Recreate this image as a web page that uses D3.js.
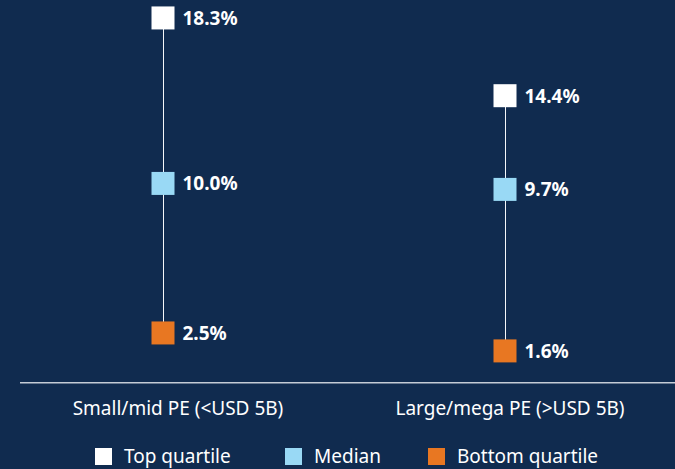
<!DOCTYPE html>
<html><head><meta charset="utf-8">
<script src="https://cdn.jsdelivr.net/npm/d3@7"></script>
<style>
html,body{margin:0;padding:0;background:#102b4f;}
svg{display:block;font-family:"Noto Sans","Open Sans",sans-serif;}
</style></head>
<body>
<svg id="chart" width="675" height="469"></svg>
<script>
const categories = ["Small/mid PE (<USD 5B)", "Large/mega PE (>USD 5B)"];
const topQuartile = [18.3, 14.4];
const median = [10.0, 9.7];
const bottomQuartile = [2.5, 1.6];
const seriesNames = ["Top quartile", "Median", "Bottom quartile"];
const seriesColors = ["#ffffff", "#99d9f5", "#e87722"];

const W = 675, H = 469;
const svg = d3.select("#chart");
svg.append("rect").attr("width", W).attr("height", H).attr("fill", "#102b4f");

const y = d3.scaleLinear().domain([0, 19.2]).range([382.8, 0]);
const xLabel = d3.scaleBand().domain(categories).range([12, 676]);
const xMark = d3.scalePoint().domain(categories).range([163, 505]);

// axis baseline
svg.append("line").attr("x1", 20).attr("x2", W).attr("y1", y(0)).attr("y2", y(0))
  .attr("stroke", "#c4ccd6").attr("stroke-width", 1.5);

// category labels
svg.selectAll("text.cat").data(categories).enter().append("text")
  .attr("class", "cat")
  .attr("x", d => xLabel(d) + xLabel.bandwidth() / 2)
  .attr("y", 415)
  .attr("text-anchor", "middle")
  .attr("fill", "#ffffff")
  .attr("font-size", 19)
  .text(d => d);

// range lines
svg.selectAll("line.rng").data(categories).enter().append("line")
  .attr("x1", d => xMark(d) + 0.5).attr("x2", d => xMark(d) + 0.5)
  .attr("y1", (d, i) => y(topQuartile[i])).attr("y2", (d, i) => y(bottomQuartile[i]))
  .attr("stroke", "#f4f6f9").attr("stroke-width", 1);

const series = [topQuartile, median, bottomQuartile];
const S = 23;
series.forEach((vals, si) => {
  const g = svg.append("g");
  g.selectAll("rect").data(categories).enter().append("rect")
    .attr("x", d => xMark(d) - S / 2)
    .attr("y", (d, i) => y(vals[i]) - S / 2)
    .attr("width", S).attr("height", S)
    .attr("fill", seriesColors[si]);
  g.selectAll("text").data(categories).enter().append("text")
    .attr("x", d => xMark(d) + S / 2 + 8)
    .attr("y", (d, i) => y(vals[i]))
    .attr("dy", "0.36em")
    .attr("fill", "#ffffff")
    .attr("font-size", 19)
    .attr("font-weight", "bold")
    .text((d, i) => vals[i].toFixed(1) + "%");
});

// legend
const legendX = [95, 285, 428];
const lg = svg.selectAll("g.leg").data(seriesNames).enter().append("g")
  .attr("transform", (d, i) => `translate(${legendX[i]},448)`);
lg.append("rect").attr("width", 17).attr("height", 17)
  .attr("fill", (d, i) => seriesColors[i]);
lg.append("text").attr("x", 29).attr("y", 8.5).attr("dy", "0.36em")
  .attr("fill", "#ffffff").attr("font-size", 19).text(d => d);
</script>
</body></html>
